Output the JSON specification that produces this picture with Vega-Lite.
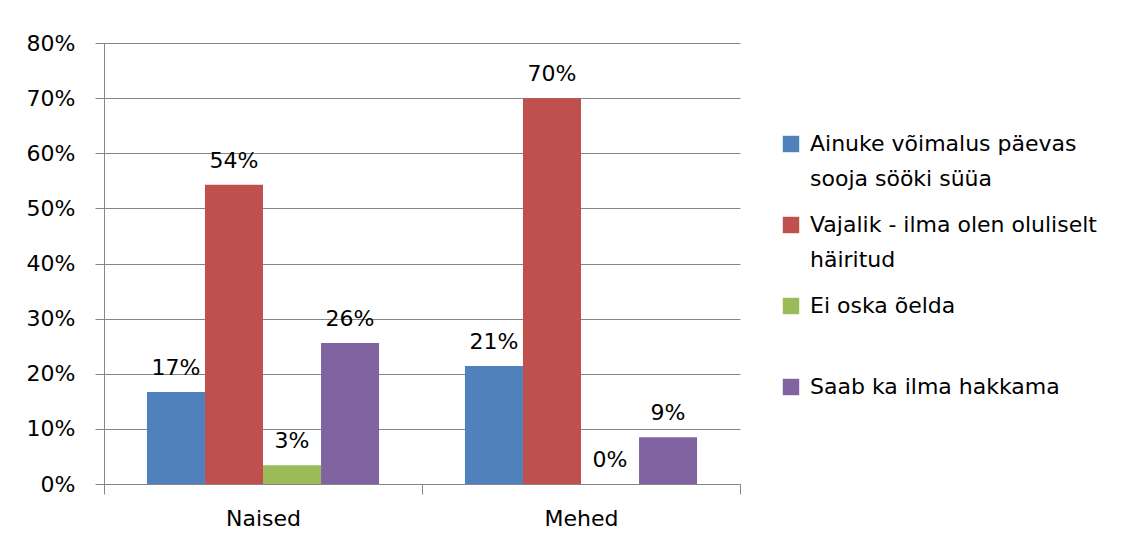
{
  "$schema": "https://vega.github.io/schema/vega-lite/v6.json",
  "width": 636,
  "height": 441,
  "autosize": {"type": "none"},
  "padding": {"left": 104, "top": 43, "right": 393, "bottom": 60},
  "background": "white",
  "data": {
    "values": [
      {"group": "Naised", "answer": "Ainuke võimalus päevas sooja sööki süüa", "value": 0.167},
      {"group": "Naised", "answer": "Vajalik - ilma olen oluliselt häiritud", "value": 0.543},
      {"group": "Naised", "answer": "Ei oska õelda", "value": 0.034},
      {"group": "Naised", "answer": "Saab ka ilma hakkama", "value": 0.256},
      {"group": "Mehed", "answer": "Ainuke võimalus päevas sooja sööki süüa", "value": 0.214},
      {"group": "Mehed", "answer": "Vajalik - ilma olen oluliselt häiritud", "value": 0.70},
      {"group": "Mehed", "answer": "Ei oska õelda", "value": 0.0},
      {"group": "Mehed", "answer": "Saab ka ilma hakkama", "value": 0.085}
    ]
  },
  "encoding": {
    "x": {
      "field": "group",
      "type": "nominal",
      "sort": ["Naised", "Mehed"],
      "scale": {"paddingInner": 0, "paddingOuter": 0},
      "axis": {
        "title": null,
        "labelAngle": 0,
        "tickBand": "extent",
        "tickSize": 10,
        "tickColor": "#868686",
        "domainColor": "#868686",
        "labelPadding": 14,
        "labelFont": "DejaVu Sans",
        "labelFontSize": 22,
        "labelColor": "#000000",
        "grid": false
      }
    },
    "xOffset": {
      "field": "answer",
      "sort": [
        "Ainuke võimalus päevas sooja sööki süüa",
        "Vajalik - ilma olen oluliselt häiritud",
        "Ei oska õelda",
        "Saab ka ilma hakkama"
      ],
      "scale": {"paddingInner": 0, "paddingOuter": 0.74}
    },
    "y": {
      "field": "value",
      "type": "quantitative",
      "scale": {"domain": [0, 0.8], "nice": false},
      "axis": {
        "title": null,
        "format": ".0%",
        "values": [0, 0.1, 0.2, 0.3, 0.4, 0.5, 0.6, 0.7, 0.8],
        "tickSize": 9,
        "tickColor": "#868686",
        "domainColor": "#868686",
        "gridColor": "#868686",
        "labelPadding": 20,
        "labelFont": "DejaVu Sans",
        "labelFontSize": 22,
        "labelColor": "#000000"
      }
    }
  },
  "layer": [
    {
      "mark": {"type": "bar"},
      "encoding": {
        "color": {
          "field": "answer",
          "type": "nominal",
          "scale": {
            "domain": [
              "Ainuke võimalus päevas sooja sööki süüa",
              "Vajalik - ilma olen oluliselt häiritud",
              "Ei oska õelda",
              "Saab ka ilma hakkama"
            ],
            "range": ["#4F81BD", "#C0504D", "#9BBB59", "#8064A2"]
          },
          "legend": {
            "title": null,
            "orient": "none",
            "legendX": 676,
            "legendY": 90,
            "symbolType": "square",
            "symbolSize": 270,
            "symbolStrokeWidth": 0,
            "labelFont": "DejaVu Sans",
            "labelFontSize": 22,
            "labelColor": "#000000",
            "labelLimit": 440,
            "labelOffset": 8,
            "rowPadding": 24,
            "labelExpr": "datum.label == 'Ainuke võimalus päevas sooja sööki süüa' ? ['Ainuke võimalus päevas', 'sooja sööki süüa'] : datum.label == 'Vajalik - ilma olen oluliselt häiritud' ? ['Vajalik - ilma olen oluliselt', 'häiritud'] : datum.label == 'Ei oska õelda' ? ['Ei oska õelda', ' '] : [datum.label, ' ']"
          }
        }
      }
    },
    {
      "mark": {
        "type": "text",
        "baseline": "alphabetic",
        "dy": -17,
        "font": "DejaVu Sans",
        "fontSize": 22,
        "color": "#000000"
      },
      "encoding": {
        "text": {"field": "value", "type": "quantitative", "format": ".0%"}
      }
    }
  ],
  "config": {
    "view": {"stroke": null},
    "style": {"guide-label": {"lineHeight": 35}}
  }
}
